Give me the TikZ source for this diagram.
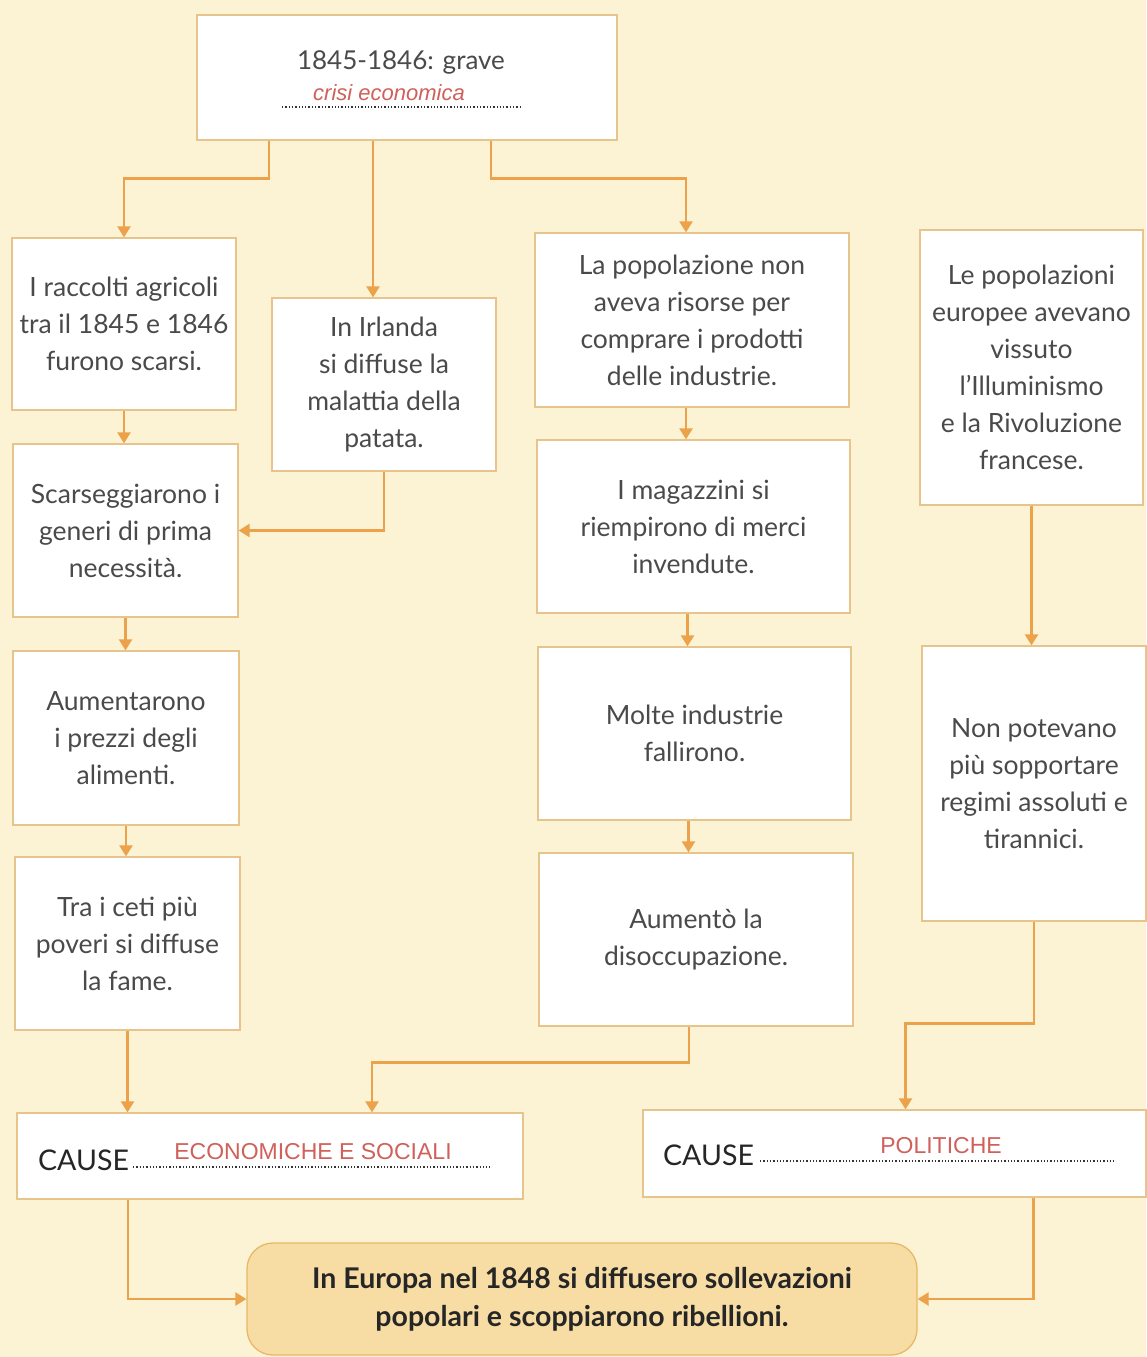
\documentclass[tikz,border=0pt]{standalone}
\usepackage{fontspec}
\setmainfont{Lato}
\newfontfamily\handfont{Liberation Sans}
\usetikzlibrary{arrows.meta,calc}
\definecolor{bg}{HTML}{FBF3D3}
\definecolor{boxline}{HTML}{E6C48C}
\definecolor{arrcol}{HTML}{EBA24A}
\definecolor{txt}{HTML}{4A4A4A}
\definecolor{hand}{HTML}{D0605A}
\definecolor{finfill}{HTML}{F7DDA4}
\definecolor{finline}{HTML}{E8B868}
\tikzset{
  box/.style={draw=boxline, line width=1.3pt, fill=white, align=center, text=txt,
    font=\fontsize{26.5}{37}\selectfont, inner sep=0pt},
  arr/.style={draw=arrcol, line width=2.4pt, -{Triangle[width=13pt,length=11pt]}},
  hand/.style={text=hand, font=\handfont\fontsize{23}{26}\selectfont, inner sep=0pt},
  causetxt/.style={text=black!85, font=\fontsize{28.5}{30}\selectfont, inner sep=0pt, anchor=west},
  dots/.style={draw=black!80, line width=1.3pt, dotted},
  fin/.style={draw=finline, line width=1.3pt, fill=finfill, rounded corners=26pt, align=center,
    text=black!85, font=\bfseries\fontsize{28.5}{38}\selectfont, inner sep=0pt}
}
\begin{document}
\begin{tikzpicture}[x=1pt,y=-1pt]
\fill[bg] (0,0) rectangle (1146,1357);
\useasboundingbox (0,0) rectangle (1146,1357);

% top
\node[box, minimum width=420pt, minimum height=125pt] (top) at (407,77.5) {};
\node[text=txt, font=\fontsize{26}{30}\selectfont, inner sep=0pt] (toptxt) at (401,62) {1845-1846: grave};
\node[hand, font=\handfont\itshape\fontsize{22}{26}\selectfont] (crisi) at (389,93) {crisi economica};
\draw[dots] (282,107) -- (522,107);

% left column
\node[box, minimum width=224pt, minimum height=172pt] (L1) at (124,324) {I raccolti agricoli\\tra il 1845 e 1846\\furono scarsi.};
\node[box, minimum width=225pt, minimum height=173pt] (L2) at (125.5,530.5) {Scarseggiarono i\\generi di prima\\necessità.};
\node[box, minimum width=226pt, minimum height=174pt] (L3) at (126,738) {Aumentarono\\i prezzi degli\\alimenti.};
\node[box, minimum width=225pt, minimum height=173pt] (L4) at (127.5,943.5) {Tra i ceti più\\poveri si diffuse\\la fame.};
\node[box, minimum width=224pt, minimum height=173pt] (irl) at (384,384.5) {In Irlanda\\si diffuse la\\malattia della\\patata.};

% middle column
\node[box, minimum width=314pt, minimum height=174pt] (M1) at (692,320) {La popolazione non\\aveva risorse per\\comprare i prodotti\\delle industrie.};
\node[box, minimum width=313pt, minimum height=173pt] (M2) at (693.5,526.5) {I magazzini si\\riempirono di merci\\invendute.};
\node[box, minimum width=313pt, minimum height=173pt] (M3) at (694.5,733.5) {Molte industrie\\fallirono.};
\node[box, minimum width=314pt, minimum height=173pt] (M4) at (696,939.5) {Aumentò la\\disoccupazione.};

% right column
\node[box, minimum width=223pt, minimum height=275pt] (R1) at (1031.5,367.5) {Le popolazioni\\europee avevano\\vissuto\\l’Illuminismo\\e la Rivoluzione\\francese.};
\node[box, minimum width=224pt, minimum height=275pt] (R2) at (1034,783.5) {Non potevano\\più sopportare\\regimi assoluti e\\tirannici.};

% causes
\node[box, minimum width=506pt, minimum height=86pt] (c1) at (270,1156) {};
\node[causetxt] (c1lab) at (38,1160) {CAUSE};
\draw[dots] (133,1167) -- (490,1167);
\node[hand] (c1val) at (313,1152) {ECONOMICHE E SOCIALI};

\node[box, minimum width=503pt, minimum height=87pt] (c2) at (894.5,1153.5) {};
\node[causetxt] (c2lab) at (663,1155) {CAUSE};
\draw[dots] (760,1161) -- (1115,1161);
\node[hand] (c2val) at (941,1146) {POLITICHE};

% final
\node[fin, minimum width=670pt, minimum height=112pt] (fin) at (582,1299) {In Europa nel 1848 si diffusero sollevazioni\\popolari e scoppiarono ribellioni.};

% connectors
\draw[arr] ([xshift=-138pt]top.south) -- ++(0,38) -| (L1.north);
\draw[arr] ([xshift=-34pt]top.south) -- ([xshift=-34pt]top.south |- irl.north);
\draw[arr] ([xshift=84pt]top.south) -- ++(0,38) -| ([xshift=-6pt]M1.north);
\draw[arr] (L1.south) -- (L1.south |- L2.north);
\draw[arr] (L2.south) -- (L2.south |- L3.north);
\draw[arr] (L3.south) -- (L3.south |- L4.north);
\draw[arr] (L4.south) -- (L4.south |- c1.north);
\draw[arr] (irl.south) |- (L2.east);
\draw[arr] ([xshift=-6pt]M1.south) -- ([xshift=-6pt]M1.south |- M2.north);
\draw[arr] ([xshift=-6pt]M2.south) -- ([xshift=-6pt]M2.south |- M3.north);
\draw[arr] ([xshift=-6pt]M3.south) -- ([xshift=-6pt]M3.south |- M4.north);
\draw[arr] ([xshift=-7pt]M4.south) -- ++(0,36) -| ([xshift=102pt]c1.north);
\draw[arr] (R1.south) -- (R1.south |- R2.north);
\draw[arr] (R2.south) -- ++(0,102) -| ([xshift=11pt]c2.north);
\draw[arr] ([xshift=-142pt]c1.south) |- (fin.west);
\draw[arr] ([xshift=139pt]c2.south) |- (fin.east);
\end{tikzpicture}
\end{document}
